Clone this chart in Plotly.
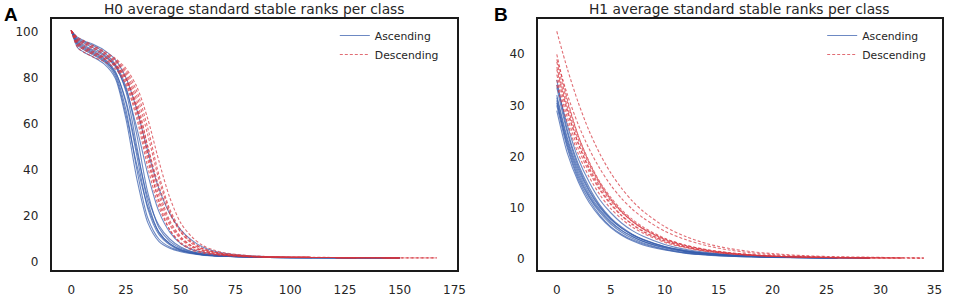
import plotly.graph_objects as go

# ---------------- data ----------------
# Panel A: H0 average standard stable ranks per class
XA = [0, 3, 6, 10, 15, 20, 25, 30, 35, 40, 45, 50, 55, 60, 65, 70, 80, 90, 110, 130, 150, 167]

A_asc_1 = [100.5, 96.5, 95.0, 93.0, 90.0, 85.5, 74.0, 50.0, 26.0, 13.0, 8.0, 5.5, 4.2, 3.4, 2.9, 2.6, 2.2, 2.0, 1.9, 1.8, 1.8]
A_asc_2 = [100.5, 95.0, 93.0, 91.0, 88.0, 82.0, 66.0, 40.0, 19.0, 10.0, 6.5, 4.8, 3.8, 3.1, 2.7, 2.5, 2.2, 2.0, 1.9, 1.8, 1.8]
A_asc_3 = [100.5, 93.0, 91.0, 89.0, 86.0, 80.0, 62.0, 36.0, 17.0, 9.0, 6.0, 4.5, 3.6, 3.0, 2.7, 2.5, 2.2, 2.0, 1.9, 1.8, 1.8]
A_asc_4 = [100.5, 97.0, 95.5, 94.0, 91.0, 86.0, 76.0, 55.0, 30.0, 15.0, 9.0, 6.0, 4.5, 3.6, 3.0, 2.7, 2.3, 2.1, 1.9, 1.8, 1.8]
A_asc_5 = [100.5, 94.0, 92.0, 90.0, 87.0, 81.0, 64.0, 42.0, 24.0, 13.0, 8.0, 5.2, 4.0, 3.2, 2.8, 2.5, 2.2, 2.0, 1.9, 1.8]
A_asc_6 = [100.5, 96.0, 94.0, 92.0, 89.5, 85.0, 75.0, 58.0, 38.0, 22.0, 13.0, 8.0, 5.5, 4.2, 3.4, 2.9, 2.4, 2.1, 1.9, 1.8, 1.8]
A_asc_7 = [100.5, 97.5, 96.0, 94.5, 92.0, 88.0, 80.0, 66.0, 48.0, 32.0, 21.0, 14.0, 9.5, 6.5, 4.8, 3.8, 2.8, 2.3, 2.0, 1.9, 1.8]
A_asc_8 = [100.5, 95.5, 93.5, 91.5, 88.5, 83.0, 69.0, 46.0, 23.0, 12.0, 7.5, 5.0, 3.9, 3.2, 2.8, 2.5, 2.2, 2.0, 1.9]
A_asc_9 = [100.5, 94.5, 92.5, 90.5, 87.5, 82.5, 70.0, 48.0, 28.0, 16.0, 10.0, 6.5, 4.6, 3.6, 3.0, 2.6, 2.2, 2.0, 1.9, 1.8]

A_desc_1 = [100.5, 96.0, 94.5, 92.5, 90.0, 87.0, 81.0, 70.0, 50.0, 31.0, 18.0, 11.0, 7.0, 5.0, 3.9, 3.2, 2.5, 2.2, 2.0, 1.9, 1.8, 1.8]
A_desc_2 = [100.5, 94.0, 92.0, 90.0, 88.0, 85.0, 78.0, 64.0, 44.0, 27.0, 16.0, 10.0, 6.5, 4.7, 3.7, 3.1, 2.5, 2.2, 2.0, 1.9, 1.8]
A_desc_3 = [100.5, 97.0, 95.5, 93.5, 91.0, 88.0, 83.0, 74.0, 58.0, 38.0, 23.0, 14.0, 9.0, 6.0, 4.5, 3.6, 2.7, 2.3, 2.0, 1.9, 1.8]
A_desc_4 = [100.5, 93.0, 91.0, 89.0, 87.0, 84.0, 77.0, 62.0, 41.0, 24.0, 14.0, 8.5, 5.8, 4.3, 3.4, 2.9, 2.4, 2.1, 2.0, 1.9]
A_desc_5 = [100.5, 95.5, 93.5, 91.5, 89.0, 86.0, 80.0, 68.0, 50.0, 33.0, 21.0, 13.0, 8.5, 5.8, 4.4, 3.5, 2.6, 2.2, 2.0, 1.9, 1.8, 1.8]
A_desc_6 = [100.5, 96.5, 95.0, 93.0, 90.5, 87.5, 82.0, 72.0, 55.0, 36.0, 22.0, 13.0, 8.0, 5.5, 4.2, 3.4, 2.6, 2.2, 2.0, 1.9, 1.8]
A_desc_7 = [100.5, 94.5, 92.5, 90.5, 88.5, 85.5, 79.0, 66.0, 47.0, 29.0, 17.0, 10.5, 7.0, 5.0, 3.9, 3.2, 2.5, 2.2, 2.0, 1.9]
A_desc_8 = [100.5, 95.0, 93.0, 91.0, 89.0, 86.0, 79.5, 67.0, 46.0, 26.0, 14.0, 8.0, 5.2, 3.9, 3.2, 2.8, 2.3, 2.1, 2.0, 1.9, 1.8]
A_desc_9 = [100.5, 97.5, 96.0, 94.0, 91.5, 88.5, 84.0, 76.0, 62.0, 44.0, 28.0, 17.0, 11.0, 7.2, 5.2, 4.0, 2.9, 2.4, 2.1, 1.9, 1.8]

# Panel B: H1 average standard stable ranks per class
XB = [0, 1, 2, 3, 4, 5, 6, 7, 8, 10, 12, 14, 16, 18, 20, 23, 26, 29, 32, 34]

B_asc_1 = [35.0, 25.0, 18.5, 14.0, 10.5, 8.0, 6.2, 4.8, 3.8, 2.4, 1.5, 1.0, 0.7, 0.5, 0.35, 0.25, 0.2, 0.15]
B_asc_2 = [31.0, 22.0, 16.0, 12.0, 9.0, 6.8, 5.2, 4.0, 3.1, 1.9, 1.2, 0.8, 0.55, 0.4, 0.3, 0.2, 0.15, 0.12]
B_asc_3 = [30.0, 21.5, 15.5, 11.5, 8.5, 6.3, 4.8, 3.7, 2.9, 1.8, 1.1, 0.75, 0.5, 0.38, 0.28, 0.2, 0.15]
B_asc_4 = [33.5, 24.5, 18.0, 13.5, 10.2, 7.8, 6.0, 4.7, 3.7, 2.3, 1.5, 1.0, 0.7, 0.5, 0.35, 0.25, 0.2, 0.15]
B_asc_5 = [29.0, 20.5, 15.0, 11.0, 8.2, 6.1, 4.6, 3.5, 2.7, 1.7, 1.05, 0.7, 0.5, 0.35, 0.26, 0.19, 0.15]
B_asc_6 = [32.0, 23.5, 17.5, 13.2, 10.0, 7.7, 6.0, 4.7, 3.7, 2.4, 1.6, 1.05, 0.72, 0.5, 0.36, 0.25, 0.2, 0.15]
B_asc_7 = [30.5, 22.5, 16.5, 12.3, 9.3, 7.1, 5.5, 4.3, 3.4, 2.1, 1.35, 0.9, 0.62, 0.45, 0.32, 0.22, 0.17]
B_asc_8 = [34.0, 26.0, 19.5, 15.0, 11.5, 9.0, 7.0, 5.5, 4.4, 2.8, 1.8, 1.2, 0.8, 0.55, 0.4, 0.28, 0.2, 0.15]
B_asc_9 = [31.5, 23.0, 17.0, 12.7, 9.6, 7.3, 5.6, 4.4, 3.4, 2.2, 1.4, 0.95, 0.65, 0.46, 0.33, 0.23, 0.18]

B_desc_1 = [44.5, 37.0, 30.5, 25.0, 20.5, 16.8, 13.8, 11.3, 9.3, 6.3, 4.3, 2.9, 2.0, 1.4, 1.0, 0.6, 0.4, 0.3, 0.2, 0.15]
B_desc_2 = [40.0, 31.0, 24.0, 18.8, 14.8, 11.7, 9.3, 7.4, 5.9, 3.8, 2.5, 1.65, 1.1, 0.75, 0.52, 0.32, 0.22, 0.17, 0.14]
B_desc_3 = [38.5, 30.5, 24.0, 19.0, 15.0, 12.0, 9.6, 7.7, 6.2, 4.0, 2.6, 1.7, 1.15, 0.78, 0.55, 0.34, 0.23, 0.17, 0.14, 0.12]
B_desc_4 = [37.0, 29.0, 22.5, 17.5, 13.7, 10.8, 8.5, 6.8, 5.4, 3.5, 2.3, 1.5, 1.0, 0.7, 0.5, 0.3, 0.22, 0.17]
B_desc_5 = [36.0, 28.5, 22.5, 17.8, 14.2, 11.3, 9.1, 7.3, 5.9, 3.9, 2.6, 1.75, 1.2, 0.82, 0.57, 0.35, 0.24, 0.18, 0.14]
B_desc_6 = [39.0, 32.0, 26.2, 21.5, 17.6, 14.4, 11.8, 9.7, 8.0, 5.4, 3.7, 2.5, 1.7, 1.15, 0.8, 0.48, 0.3, 0.2, 0.15, 0.13]
B_desc_7 = [34.0, 26.5, 20.5, 16.0, 12.5, 9.8, 7.8, 6.2, 5.0, 3.2, 2.1, 1.4, 0.95, 0.65, 0.46, 0.3, 0.2, 0.16]
B_desc_8 = [37.5, 29.5, 23.3, 18.4, 14.6, 11.6, 9.2, 7.3, 5.8, 3.7, 2.4, 1.6, 1.05, 0.72, 0.5, 0.32, 0.22, 0.17, 0.14]
B_desc_9 = [35.0, 27.5, 21.5, 17.0, 13.4, 10.6, 8.4, 6.7, 5.3, 3.4, 2.2, 1.45, 0.98, 0.68, 0.48, 0.3, 0.21, 0.16]

A_asc = [A_asc_1, A_asc_2, A_asc_3, A_asc_4, A_asc_5, A_asc_6, A_asc_7, A_asc_8, A_asc_9]
A_desc = [A_desc_1, A_desc_2, A_desc_3, A_desc_4, A_desc_5, A_desc_6, A_desc_7, A_desc_8, A_desc_9]
B_asc = [B_asc_1, B_asc_2, B_asc_3, B_asc_4, B_asc_5, B_asc_6, B_asc_7, B_asc_8, B_asc_9]
B_desc = [B_desc_1, B_desc_2, B_desc_3, B_desc_4, B_desc_5, B_desc_6, B_desc_7, B_desc_8, B_desc_9]

titles = ["H0 average standard stable ranks per class", "H1 average standard stable ranks per class"]
panel_labels = ["A", "B"]
A_xticks = [0, 25, 50, 75, 100, 125, 150, 175]
A_yticks = [0, 20, 40, 60, 80, 100]
B_xticks = [0, 5, 10, 15, 20, 25, 30, 35]
B_yticks = [0, 10, 20, 30, 40]

# ---------------- styles ----------------
BLUE = "rgba(52, 92, 172, 0.72)"
RED = "rgba(214, 52, 62, 0.72)"
FONT = "DejaVu Sans"
TXT = "#262626"

fig = go.Figure()

def add_group(xs, curves, name, color, dash, xaxis, yaxis, legend):
    for i, vals in enumerate(curves):
        fig.add_trace(go.Scatter(
            x=xs[:len(vals)], y=vals, mode="lines", name=name,
            line=dict(color=color, width=1.1, dash=dash, shape="spline", smoothing=0.8),
            legendgroup=legend + name, showlegend=(i == 0),
            xaxis=xaxis, yaxis=yaxis, legend=legend, hoverinfo="skip"))

add_group(XA, A_asc, "Ascending", BLUE, "solid", "x", "y", "legend")
add_group(XA, A_desc, "Descending", RED, "3px,2px", "x", "y", "legend")
add_group(XB, B_asc, "Ascending", BLUE, "solid", "x2", "y2", "legend2")
add_group(XB, B_desc, "Descending", RED, "3px,2px", "x2", "y2", "legend2")

W, H = 955, 297
dA = [52 / W, 461 / W]
dB = [543 / W, 951 / W]
dY = [(H - 270) / H, (H - 19) / H]

axis_common = dict(showline=True, mirror=True, linecolor="#1a1a1a", linewidth=1.5,
                   showgrid=False, zeroline=False, ticks="",
                   tickfont=dict(family=FONT, size=12, color=TXT))

legend_common = dict(font=dict(family=FONT, size=10.8, color=TXT), bgcolor="rgba(0,0,0,0)",
                     itemwidth=30, yanchor="top", xanchor="left", tracegroupgap=0)

fig.update_layout(
    width=W, height=H, margin=dict(l=0, r=0, t=0, b=0),
    plot_bgcolor="white", paper_bgcolor="white",
    xaxis=dict(domain=dA, range=[-9, 176], tickvals=A_xticks, anchor="y", ticklabelstandoff=8, **axis_common),
    yaxis=dict(domain=dY, range=[-3.45, 105.5], tickvals=A_yticks, anchor="x", ticklabelstandoff=9, **axis_common),
    xaxis2=dict(domain=dB, range=[-1.75, 35.7], tickvals=B_xticks, anchor="y2", ticklabelstandoff=8, **axis_common),
    yaxis2=dict(domain=dY, range=[-2.2, 46.9], tickvals=B_yticks, anchor="x2", ticklabelstandoff=9, **axis_common),
    legend=dict(x=338 / W, y=1 - 21 / H, **legend_common),
    legend2=dict(x=830 / W, y=1 - 21 / H, **legend_common),
    annotations=[
        dict(text=titles[0], x=(dA[0] + dA[1]) / 2, y=1 - 9 / H, xref="paper", yref="paper",
             showarrow=False, font=dict(family=FONT, size=13.8, color=TXT), xanchor="center", yanchor="middle"),
        dict(text=titles[1], x=(dB[0] + dB[1]) / 2, y=1 - 9 / H, xref="paper", yref="paper",
             showarrow=False, font=dict(family=FONT, size=13.8, color=TXT), xanchor="center", yanchor="middle"),
        dict(text="<b>" + panel_labels[0] + "</b>", x=2 / W, y=1 - 15 / H, xref="paper", yref="paper",
             showarrow=False, font=dict(family="Liberation Sans", size=19, color="black"), xanchor="left", yanchor="middle"),
        dict(text="<b>" + panel_labels[1] + "</b>", x=497 / W, y=1 - 15 / H, xref="paper", yref="paper",
             showarrow=False, font=dict(family="Liberation Sans", size=19, color="black"), xanchor="left", yanchor="middle"),
    ],
)

fig.write_html("out.html", config={"displayModeBar": False},
               post_script="document.body.style.margin='0px'; document.body.style.overflow='hidden';")
